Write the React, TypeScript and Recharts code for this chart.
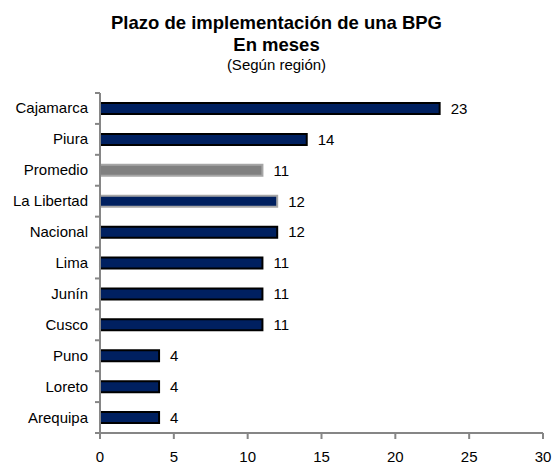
import React from "react";
import { BarChart, Bar, XAxis, YAxis, Cell, LabelList } from "recharts";

const categories = ["Cajamarca", "Piura", "Promedio", "La Libertad", "Nacional", "Lima", "Junín", "Cusco", "Puno", "Loreto", "Arequipa"];
const values = [23, 14, 11, 12, 12, 11, 11, 11, 4, 4, 4];
const xTicks = [0, 5, 10, 15, 20, 25, 30];

const data = categories.map((name, i) => ({ name, value: values[i] }));

const FONT = "'Liberation Sans', Arial, sans-serif";
const AXIS = "#868686";
const W = 553;
const H = 465;
const M = { top: 93, right: 10, bottom: 0, left: 0 };
const YW = 100;
const XH = 32;
const plotH = H - M.top - M.bottom - XH;
const band = plotH / categories.length;

const YTick = (props: any) => {
  const { x, y, payload, index } = props;
  const ax = x + 8;
  return (
    <g>
      <line x1={ax - 5} x2={ax} y1={y - band / 2} y2={y - band / 2} stroke={AXIS} strokeWidth={2} />
      {index === categories.length - 1 && (
        <line x1={ax - 5} x2={ax} y1={y + band / 2} y2={y + band / 2} stroke={AXIS} strokeWidth={2} />
      )}
      <text x={ax - 12} y={y} dy={5} textAnchor="end" fontSize={15} fill="#000" fontFamily={FONT}>
        {payload.value}
      </text>
    </g>
  );
};

const line = (top: number, h: number, size: number, bold: boolean): React.CSSProperties => ({
  position: "absolute",
  left: 0,
  top,
  width: W,
  height: h,
  lineHeight: `${h}px`,
  fontSize: size,
  fontWeight: bold ? "bold" : "normal",
  textAlign: "center",
  color: "#000",
  whiteSpace: "nowrap",
});

export default function App() {
  return (
    <div style={{ position: "fixed", left: 0, top: 0, width: W, height: H, fontFamily: FONT, background: "#fff" }}>
      <div style={line(12, 21, 18.5, true)}>Plazo de implementación de una BPG</div>
      <div style={line(35, 20, 18.5, true)}>En meses</div>
      <div style={line(56, 17, 15, false)}>(Según región)</div>
      <BarChart width={W} height={H} data={data} layout="vertical" margin={M} barCategoryGap={0}>
        <XAxis
          type="number"
          domain={[0, 30]}
          ticks={xTicks}
          height={XH}
          stroke={AXIS}
          strokeWidth={2}
          tickSize={6}
          tickLine={{ stroke: AXIS, strokeWidth: 2 }}
          tick={{ fill: "#000", fontSize: 15, fontFamily: FONT }}
          tickMargin={12}
          interval={0}
        />
        <YAxis
          type="category"
          dataKey="name"
          width={YW}
          stroke={AXIS}
          strokeWidth={2}
          tickLine={false}
          tick={<YTick />}
          interval={0}
        />
        <Bar dataKey="value" barSize={11} fill="#002060" stroke="#000" strokeWidth={2} isAnimationActive={false}>
          {data.map((d, i) => (
            <Cell
              key={i}
              fill={d.name === "Promedio" ? "#808080" : "#002060"}
              stroke={d.name === "Promedio" || d.name === "La Libertad" ? "#a6a6a6" : "#000"}
            />
          ))}
          <LabelList dataKey="value" position="right" offset={11} fill="#000" fontSize={15} fontFamily={FONT} />
        </Bar>
      </BarChart>
    </div>
  );
}
